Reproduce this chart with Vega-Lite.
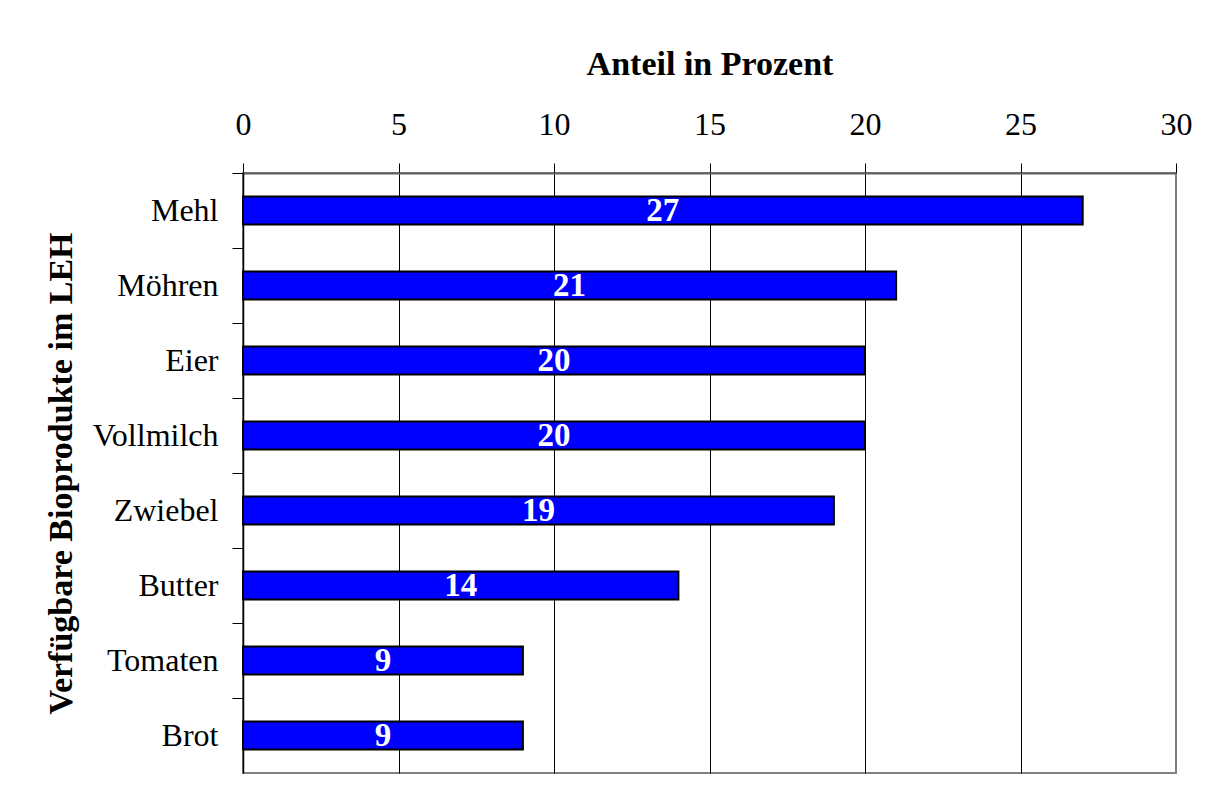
{
  "$schema": "https://vega.github.io/schema/vega-lite/v6.json",
  "width": 933,
  "height": 600,
  "autosize": {"type": "none"},
  "padding": {"left": 243, "top": 173, "right": 40, "bottom": 20},
  "background": "white",
  "config": {
    "font": "Liberation Serif",
    "view": {"stroke": "#808080", "strokeWidth": 2}
  },
  "data": {
    "values": [
      {"produkt": "Mehl", "anteil": 27},
      {"produkt": "Möhren", "anteil": 21},
      {"produkt": "Eier", "anteil": 20},
      {"produkt": "Vollmilch", "anteil": 20},
      {"produkt": "Zwiebel", "anteil": 19},
      {"produkt": "Butter", "anteil": 14},
      {"produkt": "Tomaten", "anteil": 9},
      {"produkt": "Brot", "anteil": 9}
    ]
  },
  "encoding": {
    "y": {
      "field": "produkt",
      "type": "nominal",
      "sort": null,
      "scale": {"paddingInner": 0, "paddingOuter": 0},
      "axis": {
        "title": "Verfügbare Bioprodukte im LEH",
        "titleFont": "Liberation Serif",
        "titleFontSize": 34,
        "titleFontWeight": "bold",
        "titleColor": "black",
        "titlePadding": 14,
        "labelFont": "Liberation Serif",
        "labelFontSize": 32,
        "labelColor": "black",
        "labelPadding": 14,
        "tickSize": 11,
        "tickColor": "black",
        "tickWidth": 1,
        "bandPosition": 0,
        "domainColor": "black",
        "domainWidth": 1.5,
        "grid": false
      }
    }
  },
  "layer": [
    {
      "mark": {"type": "bar", "height": 28, "fill": "#0000FF", "stroke": "black", "strokeWidth": 2},
      "encoding": {
        "x": {
          "field": "anteil",
          "type": "quantitative",
          "scale": {"domain": [0, 30], "nice": false},
          "axis": {
            "orient": "top",
            "title": "Anteil in Prozent",
            "titleFont": "Liberation Serif",
            "titleFontSize": 34,
            "titleFontWeight": "bold",
            "titleColor": "black",
            "titlePadding": 27,
            "values": [0, 5, 10, 15, 20, 25, 30],
            "labelFont": "Liberation Serif",
            "labelFontSize": 32,
            "labelColor": "black",
            "labelPadding": 22,
            "labelFlush": false,
            "tickSize": 10,
            "tickColor": "black",
            "tickWidth": 1,
            "domainColor": "#606060",
            "domainWidth": 2,
            "grid": true,
            "gridColor": {"condition": {"test": "datum.value === 30 || datum.value === 0", "value": "#808080"}, "value": "black"},
            "gridOpacity": 1,
            "gridWidth": 1
          }
        }
      }
    },
    {
      "mark": {"type": "text", "color": "white", "font": "Liberation Serif", "fontSize": 33, "fontWeight": "bold", "align": "center", "baseline": "middle", "dy": 0},
      "encoding": {
        "x": {
          "field": "anteil",
          "type": "quantitative",
          "scale": {"domain": [0, 60], "nice": false},
          "axis": null
        },
        "text": {"field": "anteil", "type": "quantitative"}
      }
    }
  ],
  "resolve": {"scale": {"x": "independent"}, "axis": {"x": "independent"}}
}
